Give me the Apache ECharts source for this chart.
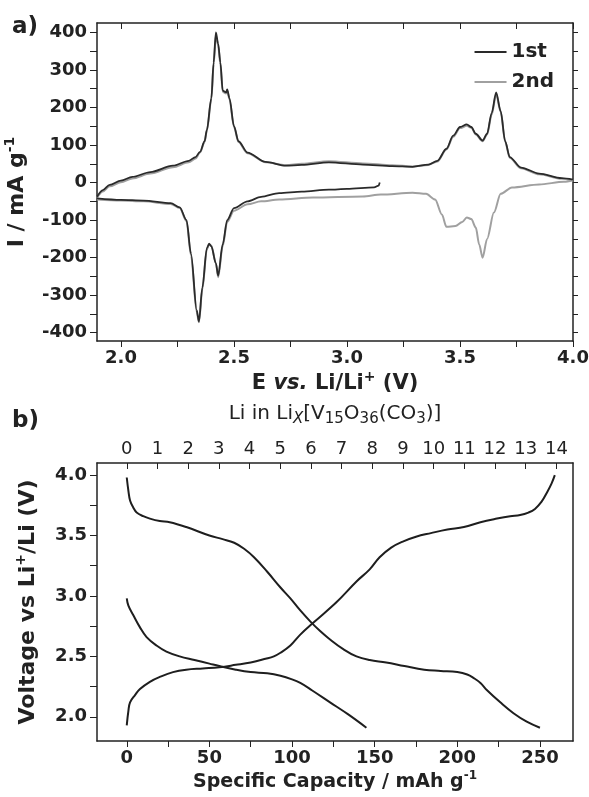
<!DOCTYPE html>
<html>
<head>
<meta charset="utf-8">
<script src="https://cdn.jsdelivr.net/npm/echarts@6.0.0/dist/echarts.min.js"></script>
<style>
  html, body { margin: 0; padding: 0; background: #fff; }
  #main { width: 589px; height: 797px; }
</style>
</head>
<body>
<div id="main"></div>
<script>
// ---- a) 循环伏安 数据 [E (V), I (mA/g)] ----
const cycle1Cathodic = [
  [3.145, 0], [3.14, -8], [3.12, -13], [3.0, -17], [2.92, -19], [2.80, -24], [2.70, -28],
  [2.62, -38], [2.56, -50], [2.50, -68], [2.47, -100], [2.45, -165], [2.43, -248],
  [2.42, -215], [2.40, -170], [2.39, -163], [2.38, -175], [2.36, -280], [2.345, -370],
  [2.335, -340], [2.31, -190], [2.29, -100], [2.26, -66], [2.22, -55], [2.10, -48],
  [2.0, -46], [1.894, -42]
]
const cycle1Anodic = [
  [1.894, -38], [1.92, -20], [1.95, -6], [2.0, 5], [2.05, 15], [2.13, 28], [2.23, 45],
  [2.30, 58], [2.33, 68], [2.35, 82], [2.37, 110], [2.38, 140], [2.40, 225], [2.41, 320],
  [2.42, 400], [2.43, 370], [2.44, 320], [2.45, 245], [2.465, 240], [2.47, 248],
  [2.48, 225], [2.50, 150], [2.52, 110], [2.56, 80], [2.64, 55], [2.73, 45], [2.80, 47],
  [2.92, 54], [3.07, 48], [3.20, 44], [3.29, 42], [3.36, 48], [3.40, 58], [3.44, 90],
  [3.47, 125], [3.50, 148], [3.53, 155], [3.55, 148], [3.57, 130], [3.60, 112],
  [3.62, 130], [3.64, 185], [3.66, 240], [3.68, 190], [3.70, 110], [3.72, 68],
  [3.77, 40], [3.85, 24], [3.95, 12], [4.0, 8]
]
const cycle2Cathodic = [
  [4.0, 6], [3.96, 2], [3.85, -5], [3.73, -13], [3.68, -30], [3.65, -80], [3.62, -150],
  [3.60, -200], [3.585, -165], [3.57, -120], [3.55, -97], [3.53, -93], [3.51, -105],
  [3.48, -116], [3.44, -118], [3.42, -85], [3.39, -45], [3.35, -30], [3.29, -27],
  [3.15, -32], [3.07, -37], [2.85, -40], [2.70, -45], [2.62, -50], [2.56, -58],
  [2.50, -75], [2.47, -105], [2.45, -170], [2.43, -252], [2.42, -215], [2.40, -168],
  [2.39, -165], [2.38, -178], [2.36, -285], [2.345, -372], [2.335, -345], [2.31, -195],
  [2.29, -103], [2.26, -68], [2.22, -57], [2.10, -50], [2.0, -48], [1.894, -45]
]
const cycle2Anodic = [
  [1.894, -40], [1.92, -24], [1.95, -10], [2.0, 1], [2.05, 11], [2.13, 24], [2.23, 41],
  [2.30, 54], [2.33, 64], [2.35, 80], [2.37, 108], [2.38, 138], [2.40, 222], [2.41, 315],
  [2.42, 392], [2.43, 365], [2.44, 315], [2.45, 242], [2.465, 237], [2.47, 244],
  [2.48, 222], [2.50, 148], [2.52, 108], [2.56, 78], [2.64, 54], [2.73, 46], [2.80, 50],
  [2.92, 57], [3.07, 51], [3.20, 46], [3.29, 43], [3.36, 47], [3.40, 56], [3.44, 88],
  [3.47, 122], [3.50, 145], [3.53, 151], [3.55, 146], [3.57, 128], [3.60, 110],
  [3.62, 128], [3.64, 180], [3.66, 235], [3.68, 188], [3.70, 108], [3.72, 66],
  [3.77, 38], [3.85, 22], [3.95, 10], [4.0, 6]
]

// ---- b) 充放电曲线 [容量 (mAh/g), 电压 (V)] ----
const chargeCurve = [
  [0, 1.93], [1, 2.05], [2, 2.12], [5, 2.18], [8, 2.23], [14, 2.29], [20, 2.33], [28, 2.37],
  [36, 2.39], [46, 2.40], [56, 2.41], [66, 2.43], [75, 2.45], [84, 2.48], [89, 2.50],
  [93, 2.53], [99, 2.59], [105, 2.68], [113, 2.78], [127, 2.95], [139, 3.12], [147, 3.22],
  [153, 3.32], [160, 3.40], [167, 3.45], [175, 3.49], [184, 3.52], [194, 3.55],
  [204, 3.57], [214, 3.61], [224, 3.64], [232, 3.66], [238, 3.67], [243, 3.69],
  [247, 3.72], [251, 3.78], [254, 3.85], [257, 3.93], [259, 4.0]
]
const dischargeCurve1 = [
  [0, 3.98], [1, 3.87], [2, 3.79], [4, 3.73], [6, 3.69], [10, 3.66], [14, 3.64], [20, 3.62],
  [26, 3.61], [36, 3.57], [50, 3.50], [58, 3.47], [65, 3.44], [71, 3.39], [77, 3.32],
  [85, 3.20], [93, 3.07], [99, 2.98], [105, 2.88], [111, 2.79], [117, 2.71], [123, 2.64],
  [131, 2.56], [139, 2.50], [147, 2.47], [157, 2.45], [168, 2.42], [180, 2.39],
  [190, 2.38], [200, 2.37], [206, 2.35], [210, 2.32], [214, 2.28], [218, 2.22],
  [226, 2.12], [234, 2.03], [242, 1.96], [250, 1.91]
]
const dischargeCurve2 = [
  [0, 2.98], [1, 2.92], [4, 2.84], [8, 2.74], [12, 2.66], [18, 2.59], [24, 2.54], [32, 2.50],
  [41, 2.47], [50, 2.44], [56, 2.42], [66, 2.39], [75, 2.37], [85, 2.36], [93, 2.34],
  [100, 2.31], [105, 2.28], [112, 2.22], [123, 2.12], [134, 2.02], [145, 1.91]
]

// ---- 刻度 ----
const cvXLabels = [2.0, 2.5, 3.0, 3.5, 4.0]
const cvXTicks = [2.0, 2.25, 2.5, 2.75, 3.0, 3.25, 3.5, 3.75, 4.0]
const cvYLabels = [-400, -300, -200, -100, 0, 100, 200, 300, 400]
const cvYTicks = [-400, -350, -300, -250, -200, -150, -100, -50, 0, 50, 100, 150, 200, 250, 300, 350, 400]
const capXLabels = [0, 50, 100, 150, 200, 250]
const capXTicks = [0, 25, 50, 75, 100, 125, 150, 175, 200, 225, 250]
const liLabels = [0, 1, 2, 3, 4, 5, 6, 7, 8, 9, 10, 11, 12, 13, 14]
const voltLabels = [2.0, 2.5, 3.0, 3.5, 4.0]
const voltTicks = [2.0, 2.25, 2.5, 2.75, 3.0, 3.25, 3.5, 3.75, 4.0]

const FONT = 'DejaVu Sans'
const INK = '#222'

// 富文本：b 粗体, sup 上标, sub 下标
function makeRich (size) {
  const supSize = Math.round(size * 0.65)
  return {
    b: { fontFamily: FONT, fontSize: size, fontWeight: 'bold', color: INK, lineHeight: size + 6 },
    i: { fontFamily: FONT, fontSize: size, fontWeight: 'bold', fontStyle: 'italic', color: INK, lineHeight: size + 6 },
    sup: { fontFamily: FONT, fontSize: supSize, fontWeight: 'bold', color: INK, lineHeight: supSize, padding: [0, 0, size + 6 - supSize, 0] },
    n: { fontFamily: FONT, fontSize: size, color: INK, lineHeight: size + 6 },
    sub: { fontFamily: FONT, fontSize: supSize + 2, color: INK, lineHeight: supSize + 2, padding: [size + 6 - supSize - 2, 0, 0, 0] },
    subi: { fontFamily: FONT, fontSize: supSize + 2, fontStyle: 'italic', color: INK, lineHeight: supSize + 2, padding: [size + 6 - supSize - 2, 0, 0, 0] }
  }
}

const axisLine = { show: true, onZero: false, lineStyle: { color: INK, width: 1.5 } }
const fmt1 = (v) => v.toFixed(1)
const labelStyle = { fontFamily: FONT, fontSize: 18, fontWeight: 'bold', color: INK }

const mChart = echarts.init(document.getElementById('main'))

const options = {
  animation: false,
  title: [
    { text: 'a)', left: 7, top: 11, textStyle: { fontFamily: FONT, fontSize: 23, fontWeight: 'bold', color: INK } },
    { text: 'b)', left: 7, top: 405, textStyle: { fontFamily: FONT, fontSize: 23, fontWeight: 'bold', color: INK } }
  ],
  // 图例：只画线段
  legend: {
    data: ['1st', '2nd'],
    orient: 'vertical',
    right: 30,
    top: 37,
    icon: 'rect',
    itemWidth: 32,
    itemHeight: 2,
    itemGap: 10,
    textStyle: { fontFamily: FONT, fontSize: 20, fontWeight: 'bold', color: INK, lineHeight: 20 }
  },
  // 两个绘图区，位置固定，不让标签挤压
  grid: [
    { left: 97, top: 23, width: 476, height: 318, containLabel: false, outerBoundsMode: 'none' },
    { left: 97, top: 463, width: 476, height: 278, containLabel: false, outerBoundsMode: 'none' }
  ],
  xAxis: [
    // a) 底部 E 轴
    {
      type: 'value', gridIndex: 0, position: 'bottom', min: 1.894, max: 4.0,
      axisLine, splitLine: { show: false },
      axisTick: { show: true, length: 6, customValues: cvXTicks, lineStyle: { color: INK } },
      axisLabel: { ...labelStyle, margin: 8, customValues: cvXLabels, formatter: fmt1 },
      name: '{b|E }{i|vs.}{b| Li/Li}{sup|+}{b| (V)}',
      nameLocation: 'middle', nameGap: 29,
      nameTextStyle: { rich: makeRich(21) }
    },
    // a) 顶部只画刻度
    {
      type: 'value', gridIndex: 0, position: 'top', min: 1.894, max: 4.0,
      axisLine, splitLine: { show: false },
      axisTick: { show: true, inside: true, length: 6, customValues: cvXTicks, lineStyle: { color: INK } },
      axisLabel: { show: false }
    },
    // b) 底部容量轴
    {
      type: 'value', gridIndex: 1, position: 'bottom', min: -18, max: 270,
      axisLine, splitLine: { show: false },
      axisTick: { show: true, length: 6, customValues: capXTicks, lineStyle: { color: INK } },
      axisLabel: { ...labelStyle, margin: 8, customValues: capXLabels },
      name: '{b|Specific Capacity / mAh g}{sup|-1}',
      nameLocation: 'middle', nameGap: 29,
      nameTextStyle: { rich: makeRich(19) }
    },
    // b) 顶部 Li 含量轴
    {
      type: 'value', gridIndex: 1, position: 'top', min: -0.97, max: 14.54,
      axisLine, splitLine: { show: false },
      axisTick: { show: true, inside: true, length: 6, customValues: liLabels, lineStyle: { color: INK } },
      axisLabel: { fontFamily: FONT, fontSize: 18, color: INK, margin: 5, customValues: liLabels },
      name: '{n|Li in Li}{subi|X}{n|[V}{sub|15}{n|O}{sub|36}{n|(CO}{sub|3}{n|)]}',
      nameLocation: 'middle', nameGap: 36,
      nameTextStyle: { rich: makeRich(20) }
    }
  ],
  yAxis: [
    // a) 电流轴
    {
      type: 'value', gridIndex: 0, position: 'left', min: -422, max: 425,
      axisLine, splitLine: { show: false },
      axisTick: { show: true, length: 7, customValues: cvYTicks, lineStyle: { color: INK } },
      axisLabel: { ...labelStyle, margin: 10, customValues: cvYLabels },
      name: '{b|I / mA g}{sup|-1}',
      nameLocation: 'middle', nameGap: 50,
      nameTextStyle: { rich: makeRich(22), padding: [0, 20, 0, 0] }
    },
    {
      type: 'value', gridIndex: 0, position: 'right', min: -422, max: 425,
      axisLine, splitLine: { show: false },
      axisTick: { show: true, length: 5, customValues: cvYTicks, lineStyle: { color: INK } },
      axisLabel: { show: false }
    },
    // b) 电压轴
    {
      type: 'value', gridIndex: 1, position: 'left', min: 1.8, max: 4.1,
      axisLine, splitLine: { show: false },
      axisTick: { show: true, length: 7, customValues: voltTicks, lineStyle: { color: INK } },
      axisLabel: { ...labelStyle, margin: 10, customValues: voltLabels, formatter: fmt1 },
      name: '{b|Voltage vs Li}{sup|+}{b|/Li (V)}',
      nameLocation: 'middle', nameGap: 55,
      nameTextStyle: { rich: makeRich(22) }
    },
    {
      type: 'value', gridIndex: 1, position: 'right', min: 1.8, max: 4.1,
      axisLine, splitLine: { show: false },
      axisTick: { show: false },
      axisLabel: { show: false }
    }
  ],
  series: [
    // 第二圈（灰色，先画在下面）
    { name: '2nd', type: 'line', xAxisIndex: 0, yAxisIndex: 0, data: cycle2Cathodic, symbol: 'none', smooth: 0.3, smoothMonotone: 'x', color: '#a0a0a0', lineStyle: { width: 2 } },
    { name: '2nd', type: 'line', xAxisIndex: 0, yAxisIndex: 0, data: cycle2Anodic, symbol: 'none', smooth: 0.3, smoothMonotone: 'x', color: '#a0a0a0', lineStyle: { width: 2 } },
    // 第一圈（黑色）
    { name: '1st', type: 'line', xAxisIndex: 0, yAxisIndex: 0, data: cycle1Cathodic, symbol: 'none', smooth: 0.3, smoothMonotone: 'x', color: '#2a2a2a', lineStyle: { width: 1.8 } },
    { name: '1st', type: 'line', xAxisIndex: 0, yAxisIndex: 0, data: cycle1Anodic, symbol: 'none', smooth: 0.3, smoothMonotone: 'x', color: '#2a2a2a', lineStyle: { width: 1.8 } },
    // b) 充放电
    { name: 'charge', type: 'line', xAxisIndex: 2, yAxisIndex: 2, data: chargeCurve, symbol: 'none', smooth: 0.4, color: '#1e1e1e', lineStyle: { width: 2 } },
    { name: 'discharge1', type: 'line', xAxisIndex: 2, yAxisIndex: 2, data: dischargeCurve1, symbol: 'none', smooth: 0.4, color: '#1e1e1e', lineStyle: { width: 2 } },
    { name: 'discharge2', type: 'line', xAxisIndex: 2, yAxisIndex: 2, data: dischargeCurve2, symbol: 'none', smooth: 0.4, color: '#1e1e1e', lineStyle: { width: 2 } }
  ]
}

mChart.setOption(options)
</script>
</body>
</html>
